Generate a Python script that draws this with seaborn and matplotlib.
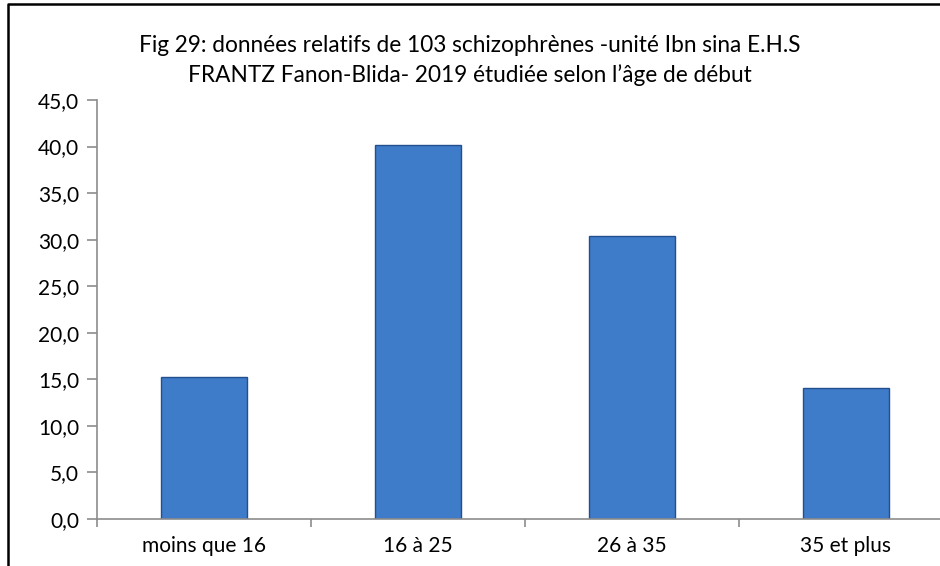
import matplotlib
matplotlib.use("Agg")
import matplotlib.pyplot as plt
import seaborn as sns
import pandas as pd
from matplotlib.ticker import FuncFormatter, FixedLocator
from matplotlib.lines import Line2D

categories = ["moins que 16", "16 à 25", "26 à 35", "35 et plus"]
values = [15.2, 40.2, 30.4, 14.1]
title_lines = ["Fig 29: données relatifs de 103 schizophrènes -unité Ibn sina E.H.S",
               "FRANTZ Fanon-Blida- 2019 étudiée selon l\u2019âge de début"]

df = pd.DataFrame({"cat": categories, "val": values})

sns.set_theme(style="white")
plt.rcParams["font.family"] = ["Lato", "DejaVu Sans"]

W, H = 940, 566
fig = plt.figure(figsize=(W / 100, H / 100), dpi=100)
fig.patch.set_facecolor("white")

left, right_px, top, bottom = 97, 97 + 4 * 214, 100, 519
ax = fig.add_axes([left / W, (H - bottom) / H, (right_px - left) / W, (bottom - top) / H])

sns.barplot(data=df, x="cat", y="val", ax=ax, color="#3E7BC8", width=0.4,
            edgecolor="#22508E", linewidth=1.0, saturation=1)

ax.set_xlim(-0.5, 3.5)
ax.set_ylim(0, 45)
ax.set_yticks([i * 5 for i in range(10)])
ax.yaxis.set_major_formatter(FuncFormatter(lambda v, p: f"{v:.1f}".replace(".", ",")))
ax.set_xlabel("")
ax.set_ylabel("")

for s in ["top", "right"]:
    ax.spines[s].set_visible(False)
for s in ["left", "bottom"]:
    ax.spines[s].set_color("#8C8C8C")
    ax.spines[s].set_linewidth(1.2)

ax.tick_params(axis="y", direction="out", length=7, width=1.2, color="#8C8C8C",
               labelsize=15, labelcolor="black", pad=6, left=True)
ax.tick_params(axis="x", which="major", length=0, labelsize=15, labelcolor="black", pad=12)
ax.xaxis.set_minor_locator(FixedLocator([-0.5, 0.5, 1.5, 2.5]))
ax.tick_params(axis="x", which="minor", direction="out", length=6, width=1.2,
               color="#8C8C8C", bottom=True)
ax.grid(False)

fig.text(0.5, 1 - 46 / H, title_lines[0], ha="center", va="center", fontsize=16.3, color="black")
fig.text(0.5, 1 - 75 / H, title_lines[1], ha="center", va="center", fontsize=16.3, color="black")

# outer chart border (left and top visible)
fig.add_artist(Line2D([8 / W, 8 / W, 1.0], [0.0, 1 - 4 / H, 1 - 4 / H],
                      transform=fig.transFigure, color="black", linewidth=1.8))

fig.savefig("out.png", dpi=100)
